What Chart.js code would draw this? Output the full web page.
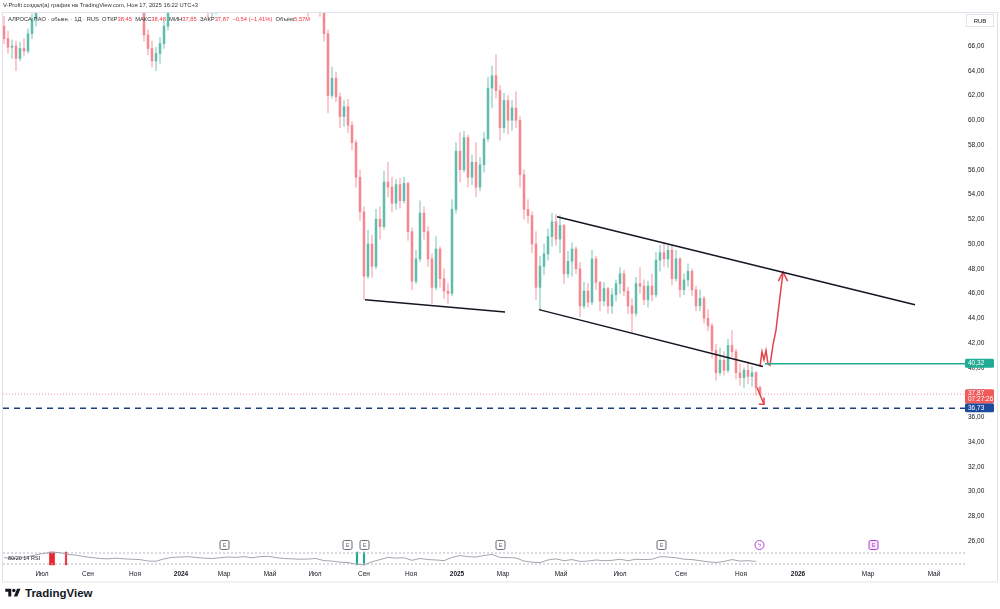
<!DOCTYPE html>
<html>
<head>
<meta charset="utf-8">
<script src="https://cdn.jsdelivr.net/npm/chart.js@4.4.1/dist/chart.umd.min.js"></script>
<style>
  html, body { margin: 0; padding: 0; width: 1000px; height: 609px; overflow: hidden; background: #fff;
    font-family: "Liberation Sans", Arial, sans-serif; }
  #chart { position: absolute; left: 0; top: 0; }
  .hdr { position: absolute; left: 3px; top: 2px; font-size: 5.8px; color: #333; white-space: nowrap; }
  .legend { position: absolute; left: 8px; top: 15.5px; font-size: 5.8px; color: #333; white-space: nowrap; }
  .legend .v { color: #f23645; }
  .logo { position: absolute; left: 5px; top: 587px; display: flex; align-items: center; gap: 4px;
    font-size: 11.5px; font-weight: bold; color: #131722; }
</style>
</head>
<body>
<canvas id="chart" width="1000" height="583"></canvas>
<div class="hdr">V-Profit создал(а) график на TradingView.com, Ноя 17, 2025 16:22 UTC+3</div>
<div class="legend">АЛРОСА ПАО · обыкн. · 1Д · RUS &nbsp;ОТКР<span class="v">38,45</span> &nbsp;МАКС<span class="v">38,48</span> &nbsp;МИН<span class="v">37,85</span> &nbsp;ЗАКР<span class="v">37,87</span> &nbsp;<span class="v">−0,54 (−1,41%)</span> &nbsp;Объём<span class="v">5,57M</span></div>
<div class="logo">
  <svg width="16" height="12" viewBox="0 0 36 28"><path fill="#131722" d="M14 22H7V11H0V4h14v18zM28 22h-8l7.5-18h8L28 22z"/><circle fill="#131722" cx="20" cy="8" r="4"/></svg>
  <span>TradingView</span>
</div>
<script>
/* ── Data: one candle per step (index on the x axis) ── */
const OPENS = [
  67.6, 66.6, 65.9, 66.0, 65.0, 65.8, 65.6, 67.0, 68.2, 69.0,
  70.5, 72.0, 73.5, 75.0, 76.0, 77.0, 76.5, 75.5, 76.5, 77.5,
  76.0, 75.0, 74.0, 74.5, 73.5, 72.5, 73.0, 72.0, 71.5, 72.5,
  71.8, 71.0, 70.5, 70.8, 70.2, 69.6, 66.9, 65.8, 64.8, 65.4,
  66.2, 67.6, 69.4, 70.5, 71.5, 72.0, 71.0, 72.5, 73.0, 72.0,
  71.5, 70.5, 69.2, 69.6, 70.2, 71.0, 72.0, 73.0, 74.0, 73.5,
  74.5, 75.0, 74.0, 73.0, 74.0, 75.5, 76.0, 75.0, 74.0, 73.0,
  72.0, 71.5, 72.0, 71.0, 70.5, 71.0, 70.0, 69.6, 70.2, 70.6,
  69.0, 67.0, 62.0, 63.4, 61.9, 60.3, 61.1, 59.6, 58.2, 55.4,
  52.6, 47.4, 50.0, 48.2, 52.0, 51.4, 55.0, 54.6, 53.3, 54.8,
  53.5, 54.9, 51.0, 47.0, 48.8, 52.5, 51.0, 48.8, 46.5, 49.6,
  47.2, 46.2, 46.0, 52.8, 57.5, 56.0, 58.6, 55.4, 56.6, 54.6,
  56.4, 58.5, 62.6, 63.6, 62.4, 59.4, 61.6, 60.0, 61.0, 60.0,
  55.6, 52.8, 52.3, 50.0, 46.5, 48.2, 49.2, 50.6, 51.8, 50.4,
  51.5, 47.6, 48.6, 49.6, 48.0, 45.0, 46.2, 45.3, 48.8, 46.9,
  45.4, 46.4, 45.0, 45.9, 46.8, 47.6, 46.2, 45.0, 44.4, 46.8,
  46.6, 45.5, 46.6, 45.9, 48.7, 49.3, 48.8, 49.5, 47.2, 48.8,
  46.3, 47.1, 47.8, 46.3, 45.0, 45.6, 44.0, 43.4, 41.4, 39.6,
  40.6, 39.8, 41.8, 41.3, 39.6, 39.2, 39.8, 39.3, 39.6, 38.45
];
const HIGHS = [
  68.4, 67.2, 66.5, 66.4, 66.3, 66.6, 67.4, 68.6, 69.5, 71.0,
  72.4, 74.0, 75.5, 76.6, 77.6, 77.5, 77.0, 77.0, 78.0, 77.8,
  76.4, 75.3, 75.0, 74.8, 73.8, 73.6, 73.3, 72.4, 73.0, 72.8,
  72.0, 71.4, 71.3, 71.0, 70.6, 70.0, 67.3, 66.4, 65.9, 66.7,
  68.0, 69.8, 71.0, 72.0, 72.6, 72.3, 73.0, 73.5, 73.2, 72.4,
  71.8, 70.8, 70.0, 70.5, 71.4, 72.4, 73.4, 74.5, 74.3, 75.0,
  75.6, 75.3, 74.4, 74.5, 76.0, 76.6, 76.3, 75.4, 74.3, 73.4,
  72.3, 72.5, 72.3, 71.4, 71.5, 71.3, 70.5, 70.5, 71.0, 71.0,
  69.3, 67.3, 64.3, 63.9, 62.2, 61.6, 61.7, 59.9, 58.4, 56.0,
  53.0, 51.1, 50.7, 52.8, 53.0, 55.9, 56.6, 55.4, 55.2, 55.3,
  55.4, 55.0, 51.3, 49.5, 53.5, 53.0, 51.4, 49.2, 50.6, 49.8,
  48.0, 46.8, 53.6, 58.2, 59.0, 59.1, 58.8, 57.2, 58.2, 57.0,
  59.0, 63.5, 64.4, 65.3, 62.8, 62.2, 62.0, 61.6, 62.3, 60.3,
  56.0, 53.6, 52.6, 51.0, 49.0, 50.0, 51.2, 52.5, 52.4, 52.3,
  51.6, 49.4, 50.1, 49.8, 48.5, 46.9, 46.8, 49.5, 49.0, 47.0,
  46.9, 46.5, 46.4, 47.1, 48.1, 47.9, 46.5, 45.6, 47.3, 48.1,
  47.1, 47.0, 47.6, 49.3, 49.9, 50.1, 49.9, 49.9, 49.5, 48.9,
  47.6, 48.4, 48.0, 46.6, 46.3, 45.8, 44.7, 43.6, 41.9, 41.6,
  41.3, 42.3, 43.0, 41.5, 40.3, 40.0, 40.5, 40.1, 39.7, 38.48
];
const LOWS = [
  66.2, 65.4, 65.0, 64.0, 64.8, 65.2, 65.4, 66.6, 67.6, 68.9,
  70.0, 71.6, 73.0, 74.5, 75.4, 75.8, 75.0, 75.2, 76.0, 75.6,
  74.6, 73.6, 73.6, 73.0, 72.0, 72.2, 71.6, 71.0, 71.2, 71.4,
  70.6, 70.0, 70.1, 69.8, 69.0, 66.4, 65.3, 64.3, 64.0, 64.6,
  65.8, 67.3, 69.2, 70.2, 71.0, 70.6, 70.8, 72.0, 71.6, 71.0,
  70.0, 68.2, 68.4, 68.6, 69.8, 70.6, 71.6, 72.6, 73.0, 73.2,
  74.0, 73.6, 72.6, 72.8, 73.6, 75.0, 74.6, 73.6, 72.6, 71.6,
  71.0, 71.2, 70.6, 70.0, 70.2, 69.8, 68.4, 69.1, 69.5, 68.4,
  66.4, 60.6, 61.8, 61.5, 59.4, 59.5, 59.0, 57.6, 54.6, 51.9,
  45.5, 47.2, 47.3, 48.0, 50.4, 51.2, 53.8, 52.6, 52.8, 52.9,
  53.3, 50.3, 46.3, 46.8, 48.6, 50.4, 48.2, 45.2, 46.3, 46.5,
  45.6, 45.2, 45.8, 52.5, 55.0, 55.8, 54.6, 54.8, 53.8, 54.3,
  55.8, 58.3, 61.0, 61.8, 58.4, 59.0, 58.9, 59.2, 59.4, 54.6,
  52.0, 51.7, 49.3, 45.5, 44.7, 47.5, 48.7, 49.8, 49.9, 49.3,
  46.8, 47.3, 47.4, 47.6, 44.1, 44.8, 44.9, 45.1, 46.3, 44.6,
  45.0, 44.4, 44.4, 45.4, 46.0, 45.8, 44.4, 42.9, 44.2, 46.0,
  45.1, 44.9, 45.4, 45.7, 47.8, 48.2, 48.1, 46.7, 47.0, 45.7,
  45.9, 46.6, 45.8, 44.6, 44.6, 43.6, 43.0, 40.8, 39.0, 39.4,
  39.4, 39.6, 40.9, 39.1, 38.6, 38.4, 38.7, 38.5, 37.8, 37.85
];
const CLOSES = [
  66.6, 65.9, 66.0, 65.0, 65.8, 65.6, 67.0, 68.2, 69.0, 70.5,
  72.0, 73.5, 75.0, 76.0, 77.0, 76.5, 75.5, 76.5, 77.5, 76.0,
  75.0, 74.0, 74.5, 73.5, 72.5, 73.0, 72.0, 71.5, 72.5, 71.8,
  71.0, 70.5, 70.8, 70.2, 69.6, 66.9, 65.8, 64.8, 65.4, 66.2,
  67.6, 69.4, 70.5, 71.5, 72.0, 71.0, 72.5, 73.0, 72.0, 71.5,
  70.5, 69.2, 69.6, 70.2, 71.0, 72.0, 73.0, 74.0, 73.5, 74.5,
  75.0, 74.0, 73.0, 74.0, 75.5, 76.0, 75.0, 74.0, 73.0, 72.0,
  71.5, 72.0, 71.0, 70.5, 71.0, 70.0, 69.6, 70.2, 70.6, 69.0,
  67.0, 62.0, 63.4, 61.9, 60.3, 61.1, 59.6, 58.2, 55.4, 52.6,
  47.4, 50.0, 48.2, 52.0, 51.4, 55.0, 54.6, 53.3, 54.8, 53.5,
  54.9, 51.0, 47.0, 48.8, 52.5, 51.0, 48.8, 46.5, 49.6, 47.2,
  46.2, 46.0, 52.8, 57.5, 56.0, 58.6, 55.4, 56.6, 54.6, 56.4,
  58.5, 62.6, 63.6, 62.4, 59.4, 61.6, 60.0, 61.0, 60.0, 55.6,
  52.8, 52.3, 50.0, 46.5, 48.2, 49.2, 50.6, 51.8, 50.4, 51.5,
  47.6, 48.6, 49.6, 48.0, 45.0, 46.2, 45.3, 48.8, 46.9, 45.4,
  46.4, 45.0, 45.9, 46.8, 47.6, 46.2, 45.0, 44.4, 46.8, 46.6,
  45.5, 46.6, 45.9, 48.7, 49.3, 48.8, 49.5, 47.2, 48.8, 46.3,
  47.1, 47.8, 46.3, 45.0, 45.6, 44.0, 43.4, 41.4, 39.6, 40.6,
  39.8, 41.8, 41.3, 39.6, 39.2, 39.8, 39.3, 39.6, 38.4, 37.87
];

/* RSI(14), one reading every RSI_STEP candles */
const RSI_STEP = 2;
const RSI = [
  55, 50, 52, 60, 70, 78, 84, 82, 72, 68,
  60, 55, 50, 48, 52, 48, 46, 44, 36, 35,
  48, 56, 58, 60, 56, 52, 50, 54, 58, 56,
  60, 54, 60, 62, 55, 50, 48, 46, 47, 50,
  38, 36, 30, 28, 19, 15, 32, 44, 56, 52,
  54, 40, 50, 44, 42, 38, 56, 66, 60, 58,
  66, 72, 56, 55, 53, 36, 30, 27, 42, 48,
  38, 44, 34, 36, 42, 38, 40, 46, 38, 46,
  44, 46, 60, 58, 54, 46, 44, 38, 32, 28,
  34, 44, 36, 38, 34
];
const RSI_LEVELS = [80, 20];
const RSI_HOT = [12];                 // overbought block
const RSI_MARKS = [15.5, 88.25, 90];  // thin signal lines
const RSI_MARK_COLORS = ['#f23645', '#22ab94', '#22ab94'];

/* x axis: month ticks (candle index units) */
const MONTH_POS = [9.5, 21, 32.75, 44.25, 55, 66.5, 77.75, 90, 101.75, 113.25,
                   124.75, 139.25, 154, 169.25, 184.25, 198.5, 216, 232.5];
const MONTH_LABELS = ['Июл', 'Сен', 'Ноя', '2024', 'Мар', 'Май', 'Июл', 'Сен', 'Ноя', '2025',
                      'Мар', 'Май', 'Июл', 'Сен', 'Ноя', '2026', 'Мар', 'Май'];
const PRICE_TICKS = [26, 28, 30, 32, 34, 36, 38, 40, 42, 44, 46, 48, 50, 52, 54, 56, 58, 60, 62, 64, 66];

/* drawings */
const SUPPORT        = [[90.25, 45.5], [125.25, 44.5]];
const CHANNEL_TOP    = [[138.25, 52.2], [227.75, 45.1]];
const CHANNEL_BOTTOM = [[133.75, 44.7], [189.75, 40.1]];
const GREEN_LEVEL = 40.32, GREEN_FROM = 190.25;
const LAST_PRICE = 37.87, TARGET_LOW = 36.73;
const ARROW_UP = [[189, 40.1], [189.5, 41.3], [190, 40.65], [190.5, 41.4], [191, 40.3], [191.5, 40.2],
                  [192.25, 41.85], [193, 43.05], [193.75, 45.1], [194.75, 47.7]];
const ARROW_UP_HEAD = [[193.6, 47.0], [194.75, 47.75], [195.9, 47.0]];
const ARROW_DOWN = [[188.25, 38.4], [190, 37.05]];
const ARROW_DOWN_HEAD = [[188.7, 37.05], [190, 37.05], [190, 37.6]];
const EVENT_X    = [55, 85.75, 90, 124, 164.25, 188.75, 217.25];
const EVENT_KIND = ['E', 'E', 'E', 'E', 'E', 'D', 'F'];

/* ── Scale ranges ── */
const X_MIN = -0.25, X_MAX = 240.25;
const PRICE_MIN = 23.9, PRICE_MAX = 68.75;
const RSI_MIN = 3.6, RSI_MAX = 3031;

const UP = 'rgba(8,153,129,0.5)', DOWN = 'rgba(242,54,69,0.45)';
const UP_WICK = 'rgba(8,153,129,0.35)', DOWN_WICK = 'rgba(242,54,69,0.32)';
const FONT = '"Liberation Sans", Arial, sans-serif';

const isUp = i => CLOSES[i] >= OPENS[i];
const pts = arr => arr.map(([x, y]) => ({ x, y }));
const hline = (y, x0, x1) => [{ x: x0, y }, { x: x1, y }];
const lineDs = (data, color, extra) => Object.assign({
  type: 'line', data, borderColor: color, borderWidth: 1.5, pointRadius: 0,
  tension: 0, fill: false, order: 0
}, extra || {});

/* ── Decorations: frame, axis tags, event markers ── */
const decor = {
  id: 'decor',
  afterDraw(chart) {
    const { ctx, chartArea: a, scales: { x, y, yr } } = chart;
    ctx.save();
    ctx.strokeStyle = '#e0e3eb';
    ctx.lineWidth = 1;
    ctx.strokeRect(2.5, a.top + 0.5, chart.width - 5, chart.height - a.top - 1.5);

    // RUB box
    ctx.fillStyle = '#fff';
    ctx.fillRect(a.right + 1, a.top + 2, 28, 13);
    ctx.strokeRect(a.right + 1.5, a.top + 2.5, 27, 12);
    ctx.fillStyle = '#131722';
    ctx.font = '6px ' + FONT;
    ctx.textAlign = 'center';
    ctx.textBaseline = 'middle';
    ctx.fillText('RUB', a.right + 15, a.top + 9);

    // price tags
    const tag = (price, bg, text, sub) => {
      const cy = y.getPixelForValue(price);
      const h = sub ? 14 : 9;
      ctx.fillStyle = bg;
      ctx.beginPath();
      ctx.roundRect(a.right, cy - 5, 29, h, 1.5);
      ctx.fill();
      ctx.fillStyle = '#fff';
      ctx.font = '6.5px ' + FONT;
      ctx.textAlign = 'left';
      ctx.fillText(text, a.right + 3, cy - 0.5);
      if (sub) ctx.fillText(sub, a.right + 3, cy + 5.5);
    };
    tag(GREEN_LEVEL, '#22ab94', '40,32');
    tag(TARGET_LOW, '#1e4a9c', '36,73');
    tag(LAST_PRICE, '#f05a5a', '37,87', '07:27:26');

    // RSI label
    ctx.fillStyle = '#131722';
    ctx.font = '5.5px ' + FONT;
    ctx.textAlign = 'left';
    ctx.fillText('80/20 14 RSI', a.left + 5, yr.getPixelForValue(50));

    // event markers
    const ey = yr.getPixelForValue(80) - 8;
    EVENT_X.forEach((ex, k) => {
      const px = Math.round(x.getPixelForValue(ex)) + 0.5;
      const kind = EVENT_KIND[k];
      const col = kind === 'E' ? '#6a6d78' : '#b03fd0';
      ctx.strokeStyle = col;
      ctx.fillStyle = kind === 'F' ? '#f6e6fb' : '#fff';
      ctx.lineWidth = 1;
      ctx.beginPath();
      if (kind === 'D') ctx.arc(px, ey, 4.5, 0, Math.PI * 2);
      else ctx.roundRect(px - 4.5, ey - 4.5, 9, 9, 1.5);
      ctx.fill();
      ctx.stroke();
      ctx.fillStyle = col;
      ctx.font = '5.5px ' + FONT;
      ctx.textAlign = 'center';
      ctx.fillText(kind === 'D' ? 'ϟ' : 'E', px, ey + 0.5);
    });
    ctx.restore();
  }
};

const idx = OPENS.map((_, i) => i);

new Chart(document.getElementById('chart'), {
  type: 'bar',
  data: {
    datasets: [
      { label: 'wicks', data: idx.map(i => ({ x: i, y: [LOWS[i], HIGHS[i]] })),
        backgroundColor: c => isUp(c.dataIndex) ? UP_WICK : DOWN_WICK,
        barThickness: 1, grouped: false, order: 11 },
      { label: 'bodies', data: idx.map(i => ({ x: i, y: [OPENS[i], CLOSES[i]] })),
        backgroundColor: c => isUp(c.dataIndex) ? UP : DOWN,
        barThickness: 2, minBarLength: 1, grouped: false, order: 10 },

      // RSI pane
      { label: 'rsiHot', yAxisID: 'yr', data: RSI_HOT.map(x => ({ x, y: [15, 85] })),
        backgroundColor: '#e8262f', barThickness: 5, grouped: false, order: 9 },
      { label: 'rsiMarks', yAxisID: 'yr', data: RSI_MARKS.map(x => ({ x, y: [15, 85] })),
        backgroundColor: RSI_MARK_COLORS, barThickness: 1.5, grouped: false, order: 9 },
      ...RSI_LEVELS.map(v => lineDs(hline(v, X_MIN, X_MAX), '#b2b5be',
        { yAxisID: 'yr', borderWidth: 1, borderDash: [2, 2], order: 8 })),
      lineDs(RSI.map((v, k) => ({ x: k * RSI_STEP, y: v })), '#a3a6af', { yAxisID: 'yr', borderWidth: 1, order: 7 }),

      // drawings
      lineDs(hline(LAST_PRICE, X_MIN, X_MAX), 'rgba(242,54,69,0.55)', { borderWidth: 1, borderDash: [1, 2] }),
      lineDs(hline(TARGET_LOW, X_MIN, X_MAX), '#1f3e7c', { borderDash: [6, 5] }),
      lineDs(hline(GREEN_LEVEL, GREEN_FROM, X_MAX), '#22ab94'),
      lineDs(pts(SUPPORT), '#131722'),
      lineDs(pts(CHANNEL_TOP), '#131722'),
      lineDs(pts(CHANNEL_BOTTOM), '#131722'),
      lineDs(pts(ARROW_UP), '#e3434b'),
      lineDs(pts(ARROW_UP_HEAD), '#e3434b'),
      lineDs(pts(ARROW_DOWN), '#e3434b'),
      lineDs(pts(ARROW_DOWN_HEAD), '#e3434b'),
    ],
  },
  options: {
    responsive: false,
    animation: false,
    events: [],
    layout: { padding: { top: 12, left: 3, right: 3, bottom: 3 } },
    plugins: { legend: { display: false }, tooltip: { enabled: false } },
    scales: {
      x: {
        type: 'linear', min: X_MIN, max: X_MAX, offset: false,
        grid: { display: false, drawTicks: false }, border: { display: false },
        afterBuildTicks: s => { s.ticks = MONTH_POS.map(v => ({ value: v })); },
        afterFit: s => { s.height = 13; },
        ticks: {
          autoSkip: false, maxRotation: 0, padding: 3, color: '#131722',
          font: c => ({ family: FONT, size: 6.5,
            weight: c.tick && String(c.tick.label).length === 4 ? 'bold' : 'normal' }),
          callback: (v, i) => MONTH_LABELS[i],
        },
      },
      y: {
        position: 'right', min: PRICE_MIN, max: PRICE_MAX,
        grid: { display: false, drawTicks: false }, border: { display: false },
        afterBuildTicks: s => { s.ticks = PRICE_TICKS.map(v => ({ value: v })); },
        afterFit: s => { s.width = 32; },
        ticks: {
          padding: 3, color: '#131722', font: { family: FONT, size: 6.5 },
          callback: v => v.toFixed(2).replace('.', ','),
        },
      },
      yr: { display: false, min: RSI_MIN, max: RSI_MAX },
    },
  },
  plugins: [decor],
});
</script>
</body>
</html>
